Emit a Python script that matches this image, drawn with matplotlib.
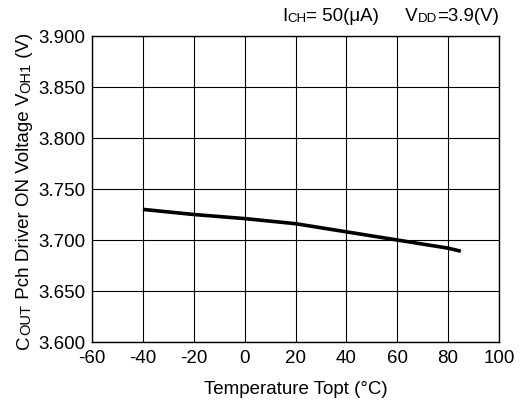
import matplotlib
matplotlib.use("Agg")
import matplotlib.pyplot as plt
import numpy as np

plt.rcParams['font.family'] = ['Liberation Sans', 'DejaVu Sans']
plt.rcParams['axes.unicode_minus'] = False

# data
temp = [-40, -20, 0, 20, 40, 60, 80, 85]
voh = [3.730, 3.725, 3.721, 3.716, 3.708, 3.700, 3.692, 3.689]

xticks = np.arange(-60, 101, 20)
yticks = [3.600, 3.650, 3.700, 3.750, 3.800, 3.850, 3.900]

W, H = 523, 406
fig = plt.figure(figsize=(W / 100, H / 100), dpi=100)
ax = fig.add_axes([92 / W, 1 - 343 / H, (499 - 92) / W, (343 - 37) / H])

ax.plot(temp, voh, color='black', lw=2.6, solid_capstyle='butt')

ax.set_xlim(-60, 100)
ax.set_ylim(3.6, 3.9)
ax.set_xticks(xticks)
ax.set_yticks(yticks)
ax.set_yticklabels(['%.3f' % v for v in yticks])
ax.tick_params(length=0, labelsize=13.5, pad=5)
ax.grid(True, color='black', lw=0.8)
for s in ax.spines.values():
    s.set_linewidth(1.0)

ax.set_xlabel('Temperature Topt (°C)', fontsize=13.5, labelpad=10)

# top annotation, small caps done with a smaller size
big, small = 13.5, 9.5
t = [('I', big), ('CH', small), ('= 50(μA)     V', big), ('DD', small), ('=3.9(V)', big)]
anchor = fig.text(282 / W, 1 - 25 / H, t[0][0], fontsize=t[0][1], ha='left', va='bottom')
for txt, size in t[1:]:
    anchor = ax.annotate(txt, xy=(1, 0), xycoords=anchor, fontsize=size,
                         ha='left', va='bottom', annotation_clip=False)

# y label with small caps pieces (rotated, baseline on the right)
big, small = 13.5, 10.5
yl = [('C', big), ('OUT', small), (' Pch Driver ON Voltage V', big), ('OH1', small), (' (V)', big)]
anchor = fig.text(33 / W, 1 - 349 / H, yl[0][0], fontsize=yl[0][1], rotation=90,
                  ha='right', va='bottom')
for txt, size in yl[1:]:
    anchor = ax.annotate(txt, xy=(1, 1), xycoords=anchor, fontsize=size, rotation=90,
                         ha='right', va='bottom', annotation_clip=False)

fig.savefig('out.png', dpi=100)
